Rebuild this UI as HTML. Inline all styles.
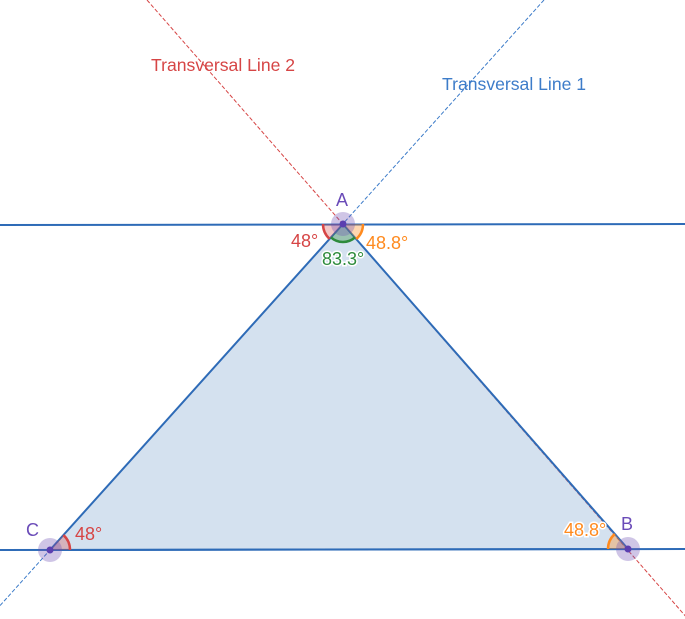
<!DOCTYPE html>
<html><head><meta charset="utf-8"><style>
html,body{margin:0;padding:0;background:#fff;}
svg{display:block;}
text{font-family:"Liberation Sans",Arial,sans-serif;font-size:18px;}
</style></head><body>
<svg width="685" height="619" viewBox="0 0 685 619" xmlns="http://www.w3.org/2000/svg">
<polygon points="343,224 628,549 50,550" fill="#d4e1ef"/>
<line x1="544" y1="0" x2="-12" y2="619" stroke="#3d7cc9" stroke-width="1" stroke-dasharray="4,2"/>
<line x1="147" y1="0" x2="688" y2="619" stroke="#d64545" stroke-width="1" stroke-dasharray="4,2"/>
<line x1="0" y1="225" x2="685" y2="224" stroke="#2e6bb7" stroke-width="2"/>
<line x1="0" y1="550" x2="685" y2="549" stroke="#2e6bb7" stroke-width="2"/>
<polygon points="343,224 628,549 50,550" fill="none" stroke="#2e6bb7" stroke-width="2"/>
<path d="M343,224 L323,224 A20,20 0 0 0 329.6,238.9 Z" fill="rgba(214,69,69,0.3)"/>
<path d="M323,224 A20,20 0 0 0 329.6,238.9" fill="none" stroke="#d64545" stroke-width="2.5"/>
<path d="M343,224 L363,224 A20,20 0 0 1 356.2,239.1 Z" fill="rgba(255,140,30,0.35)"/>
<path d="M363,224 A20,20 0 0 1 356.2,239.1" fill="none" stroke="#ff8a1e" stroke-width="2.5"/>
<path d="M343,224 L354.9,237.5 A18,18 0 0 1 331,237.4 Z" fill="rgba(46,139,60,0.35)"/>
<path d="M354.9,237.5 A18,18 0 0 1 331,237.4" fill="none" stroke="#2e8b3c" stroke-width="2.5"/>
<path d="M628,549 L608,549 A20,20 0 0 1 614.8,534 Z" fill="rgba(255,140,30,0.35)"/>
<path d="M608,549 A20,20 0 0 1 614.8,534" fill="none" stroke="#ff8a1e" stroke-width="2.5"/>
<path d="M50,550 L70,550 A20,20 0 0 0 63.4,535.1 Z" fill="rgba(214,69,69,0.3)"/>
<path d="M70,550 A20,20 0 0 0 63.4,535.1" fill="none" stroke="#d64545" stroke-width="2.5"/>
<circle cx="343" cy="224" r="12" fill="rgba(110,80,180,0.33)"/>
<circle cx="343" cy="224" r="3.5" fill="#5b3fb0"/>
<circle cx="628" cy="549" r="12" fill="rgba(110,80,180,0.33)"/>
<circle cx="628" cy="549" r="3.5" fill="#5b3fb0"/>
<circle cx="50" cy="550" r="12" fill="rgba(110,80,180,0.33)"/>
<circle cx="50" cy="550" r="3.5" fill="#5b3fb0"/>
<text x="151" y="71" fill="#d64545" style="font-size:17.6px">Transversal Line 2</text>
<text x="442" y="90" fill="#3d7cc9" style="font-size:17.6px">Transversal Line 1</text>
<text x="336" y="206" fill="#6a4bb8">A</text>
<text x="621" y="530" fill="#6a4bb8">B</text>
<text x="26" y="536" fill="#6a4bb8">C</text>
<text x="291" y="247" fill="#d64545">48°</text>
<text x="366" y="249" fill="#ff8a1e">48.8°</text>
<text x="322" y="265" fill="#2e8b3c" stroke="#fff" stroke-width="3" paint-order="stroke">83.3°</text>
<text x="75" y="540" fill="#d64545">48°</text>
<text x="564" y="536" fill="#ff8a1e" stroke="#fff" stroke-width="3" paint-order="stroke">48.8°</text>
</svg>
</body></html>
